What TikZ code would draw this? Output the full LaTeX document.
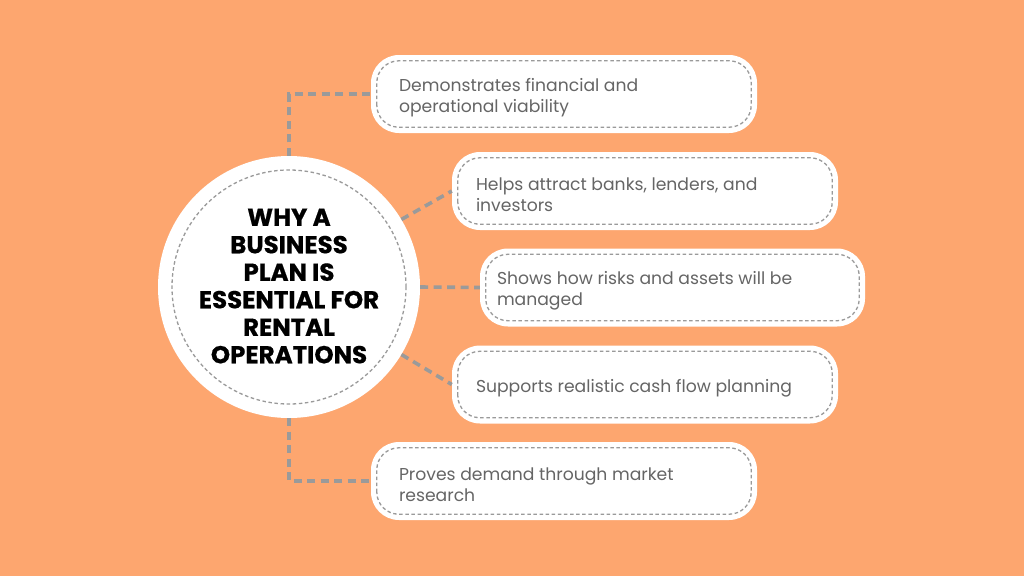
\documentclass[tikz,border=0pt]{standalone}
\usepackage{fontspec}
\setmainfont{Poppins}
\newfontfamily\titlefont{Poppins}[BoldFeatures={FakeBold=0.6}]
\definecolor{bgorange}{HTML}{FDA66F}
\definecolor{linegray}{HTML}{9A9A9A}
\definecolor{txtgray}{HTML}{656565}
\newcommand{\boxtext}[2]{\raisebox{-3.5pt}[\height][\depth]{\parbox{#1}{\raggedright #2}}}
\tikzset{
  conn/.style={draw=linegray, line width=3.6pt, dash pattern=on 8pt off 5.5pt},
  boxnode/.style={fill=white, rounded corners=28pt, minimum height=78pt,
     font=\fontsize{17.2}{21.5}\selectfont, text=txtgray, inner sep=0pt},
  innerdash/.style={draw=linegray, line width=1.3pt, dash pattern=on 3.5pt off 2.6pt, rounded corners=22pt},
}
\begin{document}
\begin{tikzpicture}[x=1pt,y=-1pt]
\useasboundingbox (0,0) rectangle (1024,576);
\fill[bgorange] (0,0) rectangle (1024,576);

\node[circle, fill=white, minimum size=262pt, inner sep=0pt] (c) at (289,287) {};
\draw[innerdash] (c.center) circle (117pt);
\node[font=\titlefont\bfseries\fontsize{24.5}{27.5}\selectfont, align=center, text=black] (t) at (289,286)
  {WHY A\\BUSINESS\\PLAN IS\\ESSENTIAL FOR\\RENTAL\\OPERATIONS};

\node[boxnode, minimum width=386pt] (b1) at (564,94)
  {\boxtext{330pt}{Demonstrates financial and\\operational viability}};
\node[boxnode, minimum width=386pt] (b2) at (645,191)
  {\boxtext{338pt}{Helps attract banks, lenders, and\\investors}};
\node[boxnode, minimum width=385pt] (b3) at (672.5,287.5)
  {\boxtext{351pt}{Shows how risks and assets will be\\managed}};
\node[boxnode, minimum width=386pt] (b4) at (645,384.5)
  {\boxtext{338pt}{Supports realistic cash flow planning}};
\node[boxnode, minimum width=386pt] (b5) at (564,481)
  {\boxtext{330pt}{Proves demand through market\\research}};

\foreach \b in {b1,b2,b3,b4,b5}{
  \draw[innerdash] ([xshift=6pt,yshift=6pt]\b.south west) rectangle ([xshift=-6pt,yshift=-6pt]\b.north east);
}

\draw[conn] (c.north) |- (b1.west);
\draw[conn] (c.31) -- (b2.west);
\draw[conn] (c.east) -- (b3.west);
\draw[conn] (c.-31) -- (b4.west);
\draw[conn] (c.south) |- (b5.west);
\end{tikzpicture}
\end{document}
